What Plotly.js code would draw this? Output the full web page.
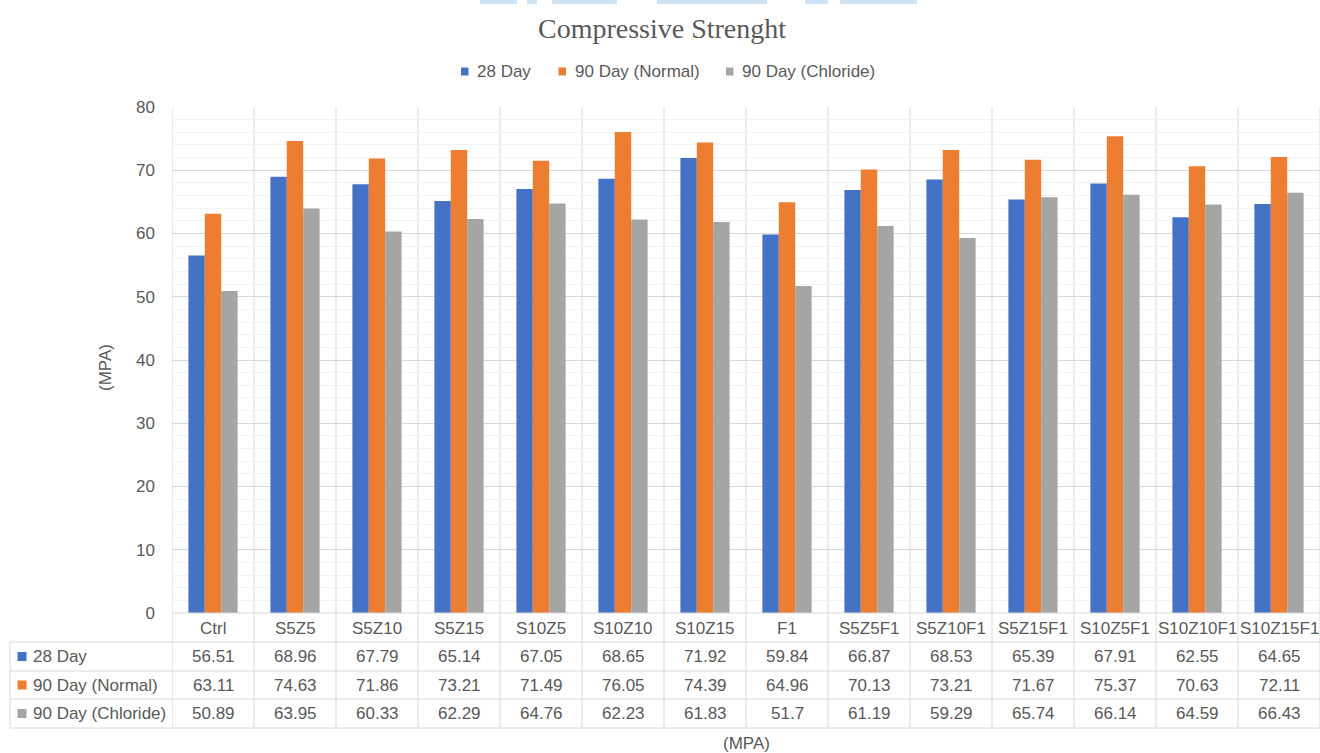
<!DOCTYPE html>
<html><head><meta charset="utf-8">
<script src="https://cdn.plot.ly/plotly-3.0.1.min.js"></script>
<style>html,body{margin:0;padding:0;background:#fff;} #chart{width:1320px;height:753px;}</style>
</head><body><div id="chart"></div>
<script>
const categories = ['Ctrl','S5Z5','S5Z10','S5Z15','S10Z5','S10Z10','S10Z15','F1','S5Z5F1','S5Z10F1','S5Z15F1','S10Z5F1','S10Z10F1','S10Z15F1'];
const day28 = [56.51,68.96,67.79,65.14,67.05,68.65,71.92,59.84,66.87,68.53,65.39,67.91,62.55,64.65];
const day90Normal = [63.11,74.63,71.86,73.21,71.49,76.05,74.39,64.96,70.13,73.21,71.67,75.37,70.63,72.11];
const day90Chloride = [50.89,63.95,60.33,62.29,64.76,62.23,61.83,51.7,61.19,59.29,65.74,66.14,64.59,66.43];
const seriesNames = ['28 Day','90 Day (Normal)','90 Day (Chloride)'];
const seriesColors = ['#4472C4','#ED7D31','#A5A5A5'];
const yTickVals = [0,10,20,30,40,50,60,70,80];
const chartTitle = 'Compressive Strenght';
const axisTitle = '(MPA)';

const W = 1320, H = 753, L = 172, R = 0, T = 107, B = 140;
const pw = W - L - R, ph = H - T - B;
const px = x => (x - L) / pw;
const py = y => (H - B - y) / ph;
const txt = '#595959', grid = '#d9d9d9';
const sans = 'Liberation Sans, Arial, sans-serif';
const f17 = {family: sans, size: 17, color: txt};

const allSeries = [day28, day90Normal, day90Chloride];
const traces = allSeries.map((vals, k) => ({
  type: 'bar', x: categories, y: vals, name: seriesNames[k],
  marker: {color: seriesColors[k]}, showlegend: false, hoverinfo: 'x+y+name'
}));

const shapes = [];
const annotations = [];
const line = (x0, y0, x1, y1) => shapes.push({type: 'line', xref: 'paper', yref: 'paper', x0, y0, x1, y1, line: {color: grid, width: 1}, layer: 'above'});
const note = (o) => annotations.push(Object.assign({showarrow: false, xanchor: 'center', yanchor: 'middle', font: f17}, o));

// category separators through plot and table
for (let i = 0; i <= categories.length; i++) {
  shapes.push({type: 'line', xref: 'x', yref: 'paper', x0: i - 0.5, x1: i - 0.5, y0: py(728), y1: 1, line: {color: grid, width: 1}, layer: 'below'});
}
// table horizontal lines
line(0, py(613), 1, py(613));
[642, 671, 699, 728].forEach(y => line(px(10), py(y), 1, py(y)));
line(px(10), py(642), px(10), py(728));

// category labels row
categories.forEach((c, i) => note({xref: 'x', yref: 'paper', x: i, y: py(628), text: c}));
// data rows
const rowY = [656.5, 685, 713.5];
allSeries.forEach((vals, k) => {
  vals.forEach((v, i) => note({xref: 'x', yref: 'paper', x: i, y: py(rowY[k]), text: String(v)}));
  note({xref: 'paper', yref: 'paper', x: px(31), xanchor: 'left', y: py(rowY[k]), text: seriesNames[k]});
  shapes.push({type: 'rect', xref: 'paper', yref: 'paper', x0: px(17.5), x1: px(26.5), y0: py(rowY[k] - 4.5), y1: py(rowY[k] + 4.5), fillcolor: seriesColors[k], line: {width: 0}});
});

// top legend
const legX = [461, 558.5, 726];
seriesNames.forEach((n, k) => {
  shapes.push({type: 'rect', xref: 'paper', yref: 'paper', x0: px(legX[k]), x1: px(legX[k] + 7.5), y0: py(75.5), y1: py(67.5), fillcolor: seriesColors[k], line: {width: 0}});
  note({xref: 'paper', yref: 'paper', x: px(legX[k] + 14), xanchor: 'left', y: py(71.5), text: n});
});

// axis titles
note({xref: 'paper', yref: 'paper', x: px(105), y: py(368), text: axisTitle, textangle: -90});
note({xref: 'paper', yref: 'paper', x: px(746), y: py(743), text: axisTitle});

// faint top artifact strips
[[480,517],[527,537],[552,617],[657,767],[805,828],[840,917]].forEach(r => shapes.push({type: 'rect', xref: 'paper', yref: 'paper', x0: px(r[0]), x1: px(r[1]), y0: py(4), y1: py(0), fillcolor: '#cfe3f6', line: {width: 0}}));

const layout = {
  width: W, height: H,
  margin: {l: L, r: R, t: T, b: B, pad: 0},
  paper_bgcolor: '#fff', plot_bgcolor: '#fff',
  title: {text: chartTitle, x: 662 / W, xref: 'container', xanchor: 'center', y: 1 - 28 / H, yref: 'container', yanchor: 'middle', font: {family: 'Liberation Serif, Times New Roman, serif', size: 28, color: txt}},
  barmode: 'group', bargap: 0.4, bargroupgap: 0,
  xaxis: {type: 'category', range: [-0.5, categories.length - 0.5], showticklabels: false, showgrid: false, zeroline: false, showline: false, ticks: '', fixedrange: true},
  yaxis: {range: [0, 80], tickvals: yTickVals, ticktext: yTickVals.map(String), showgrid: true, gridcolor: grid, gridwidth: 1,
    minor: {dtick: 2, showgrid: true, gridcolor: '#f2f2f2', gridwidth: 1},
    zeroline: false, showline: false, ticks: '', ticklabelstandoff: 16, tickfont: f17, fixedrange: true},
  shapes, annotations, showlegend: false
};
Plotly.newPlot('chart', traces, layout, {displayModeBar: false, staticPlot: true});
</script></body></html>
